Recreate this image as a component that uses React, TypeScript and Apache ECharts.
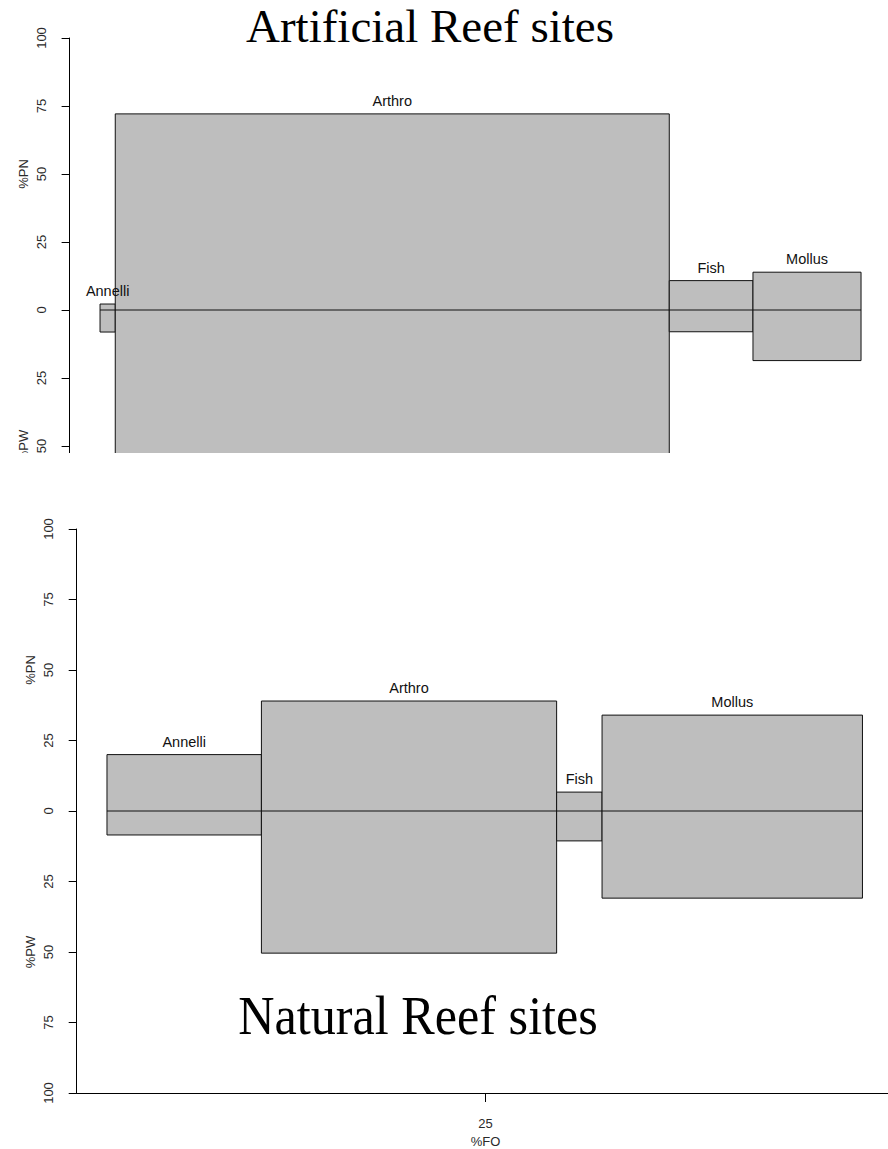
import React, { useEffect, useRef } from "react";
import * as echarts from "echarts";

// ---- data ----
const categories = ["Annelli", "Arthro", "Fish", "Mollus"];
const yTickValues = [-100, -75, -50, -25, 0, 25, 50, 75, 100];
const foTickValues = [25];
const xRange = [-2, 52];

const artificialFO = [1.0, 36.4, 5.5, 7.1];
const artificialPN = [2.2, 72.1, 10.8, 13.9];
const artificialPW = [8.1, 65.0, 8.0, 18.6];

const naturalFO = [10.2, 19.5, 3.0, 17.2];
const naturalPN = [20.0, 39.0, 6.7, 34.0];
const naturalPW = [8.5, 50.4, 10.6, 30.9];

const SANS = "Liberation Sans, Arial, sans-serif";
const SERIF = "Liberation Serif, Times New Roman, serif";

function buildRows(fo: number[], pn: number[], pw: number[]) {
  let acc = 0;
  return fo.map((w, i) => {
    const start = acc;
    acc += w;
    return [start, acc, pn[i], pw[i]];
  });
}

function makeOption(
  fo: number[],
  pn: number[],
  pw: number[],
  grid: any,
  title: any,
  showX: boolean,
  minLabel: number
) {
  const rows = buildRows(fo, pn, pw);
  const labelColor = "#2a2a2a";
  return {
    animation: false,
    backgroundColor: "#ffffff",
    grid: { ...grid, containLabel: false, outerBoundsMode: "none" },
    xAxis: {
      type: "value",
      min: xRange[0],
      max: xRange[1],
      show: showX,
      splitLine: { show: false },
      axisLine: { show: true, onZero: false, lineStyle: { color: "#000", width: 1 } },
      axisTick: { show: true, length: 9, customValues: foTickValues, lineStyle: { color: "#000" } },
      axisLabel: {
        customValues: foTickValues,
        margin: 24,
        fontFamily: SANS,
        fontSize: 13,
        color: labelColor,
      },
      name: "%FO",
      nameLocation: "middle",
      nameGap: 42,
      nameTextStyle: { fontFamily: SANS, fontSize: 13, color: labelColor },
    },
    yAxis: [
      {
        type: "value",
        min: -100,
        max: 100,
        interval: 25,
        splitLine: { show: false },
        axisLine: { show: true, onZero: false, lineStyle: { color: "#000", width: 1 } },
        axisTick: { show: true, length: 8, lineStyle: { color: "#000" } },
        axisLabel: {
          rotate: 90,
          margin: 22,
          fontFamily: SANS,
          fontSize: 13,
          color: labelColor,
          formatter: (v: number) =>
            yTickValues.includes(v) && v >= minLabel ? String(Math.abs(v)) : "",
        },
      },
      {
        type: "value",
        min: -100,
        max: 100,
        interval: 50,
        position: "left",
        splitLine: { show: false },
        axisLine: { show: false },
        axisTick: { show: false },
        axisLabel: {
          rotate: 90,
          margin: 40,
          fontFamily: SANS,
          fontSize: 13,
          color: labelColor,
          formatter: (v: number) => (v === 50 ? "%PN" : v === -50 ? "%PW" : ""),
        },
      },
    ],
    graphic: [title],
    series: [
      {
        type: "custom",
        coordinateSystem: "cartesian2d",
        clip: false,
        data: rows,
        renderItem: (params: any, api: any) => {
          const x0 = api.value(0);
          const x1 = api.value(1);
          const top = api.value(2);
          const bottom = -api.value(3);
          const p0 = api.coord([x0, top]);
          const p1 = api.coord([x1, bottom]);
          const z = api.coord([x0, 0]);
          return {
            type: "group",
            children: [
              {
                type: "rect",
                z2: 1,
                shape: { x: p0[0], y: p0[1], width: p1[0] - p0[0], height: p1[1] - p0[1] },
                style: { fill: "#bebebe", stroke: "#111", lineWidth: 1 },
              },
              {
                type: "line",
                z2: 2,
                shape: { x1: p0[0], y1: z[1], x2: p1[0], y2: z[1] },
                style: { stroke: "#111", lineWidth: 1 },
              },
              {
                type: "text",
                z2: 50,
                x: (p0[0] + p1[0]) / 2,
                y: p0[1] - 13,
                style: {
                  text: categories[params.dataIndex],
                  align: "center",
                  verticalAlign: "middle",
                  fontFamily: SANS,
                  fontSize: 14.5,
                  fill: "#111",
                },
              },
            ],
          };
        },
      },
    ],
  };
}

function Chart({ option, width, height }: { option: any; width: number; height: number }) {
  const ref = useRef<HTMLDivElement>(null);
  useEffect(() => {
    if (!ref.current) return;
    const chart = echarts.init(ref.current, undefined, { renderer: "svg" });
    chart.setOption(option);
    return () => chart.dispose();
  }, [option]);
  return <div ref={ref} style={{ width, height }} />;
}

const topOption = makeOption(
  artificialFO,
  artificialPN,
  artificialPW,
  { left: 69.6, top: 38, width: 54 * 15.22, height: 544 },
  {
    type: "text",
    x: 430,
    y: 26,
    z: 10,
    style: {
      text: "Artificial Reef sites",
      align: "center",
      verticalAlign: "middle",
      fontFamily: SERIF,
      fontSize: 47,
      fill: "#000",
    },
  },
  false,
  -50
);

const bottomOption = makeOption(
  naturalFO,
  naturalPN,
  naturalPW,
  { left: 76.7, top: 69, width: 54 * 15.14, height: 564 },
  {
    type: "text",
    x: 418,
    y: 555,
    scaleX: 0.913,
    z: 10,
    style: {
      text: "Natural Reef sites",
      align: "center",
      verticalAlign: "middle",
      fontFamily: SERIF,
      fontSize: 55,
      fill: "#000",
    },
  },
  true,
  -100
);

export default function App() {
  return (
    <div
      style={{
        position: "absolute",
        left: 0,
        top: 0,
        width: 888,
        height: 1149,
        overflow: "hidden",
        background: "#fff",
      }}
    >
      <div style={{ position: "absolute", left: 0, top: 0, width: 888, height: 453, overflow: "hidden" }}>
        <Chart option={topOption} width={900} height={620} />
      </div>
      <div style={{ position: "absolute", left: 0, top: 460, width: 888, height: 689, overflow: "hidden" }}>
        <Chart option={bottomOption} width={900} height={689} />
      </div>
    </div>
  );
}
